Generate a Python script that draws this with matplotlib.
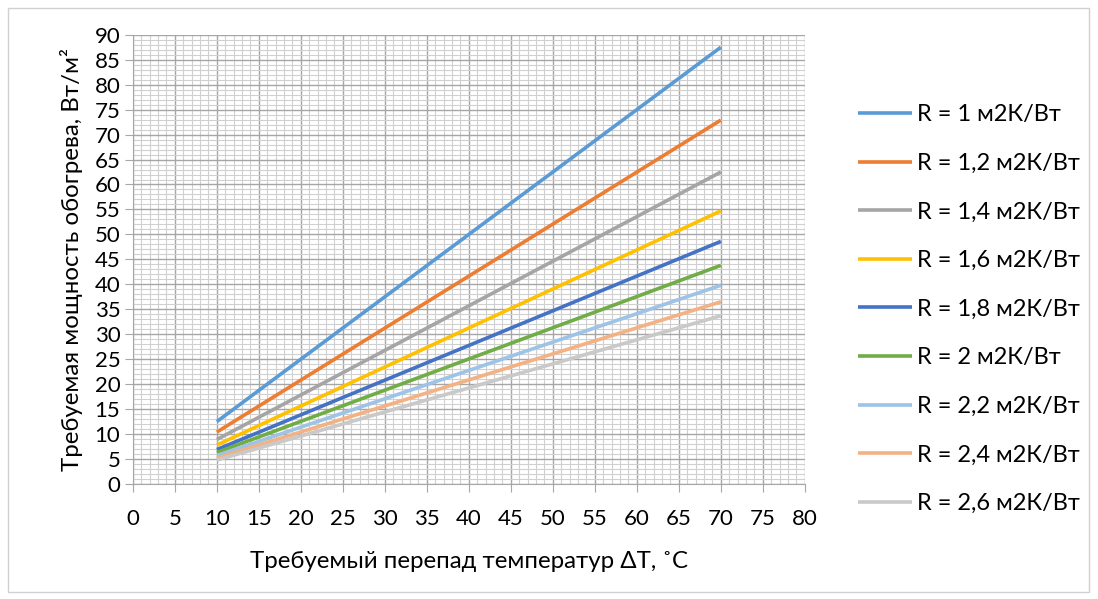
import matplotlib
matplotlib.use("Agg")
import matplotlib.pyplot as plt
from matplotlib.patches import Rectangle
from matplotlib.ticker import MultipleLocator

plt.rcParams['font.family'] = ['Lato', 'DejaVu Sans']

# thermal resistance labels and line end values
r_labels = ["1", "1,2", "1,4", "1,6", "1,8", "2", "2,2", "2,4", "2,6"]
dt_points = [10, 70]
q_start = [12.5, 10.4, 8.9, 7.8, 6.9, 6.3, 5.7, 5.2, 4.8]
q_end = [87.5, 72.9, 62.5, 54.7, 48.6, 43.8, 39.8, 36.5, 33.7]
colors = ["#5B9BD5", "#ED7D31", "#A5A5A5", "#FFC000", "#4472C4",
          "#70AD47", "#9DC3E6", "#F4B183", "#C9C9C9"]

fig = plt.figure(figsize=(10.98, 5.99), dpi=100)
ax = fig.add_axes([0.121, 0.192, 0.612, 0.750])

for lab, a, b, c in zip(r_labels, q_start, q_end, colors):
    ax.plot(dt_points, [a, b], color=c, lw=2.6, solid_capstyle='butt',
            label="R = %s м2К/Вт" % lab, zorder=3)

ax.set_xlim(0, 80)
ax.set_ylim(0, 90)
ax.xaxis.set_major_locator(MultipleLocator(5))
ax.yaxis.set_major_locator(MultipleLocator(5))
ax.xaxis.set_minor_locator(MultipleLocator(1))
ax.yaxis.set_minor_locator(MultipleLocator(1))
ax.grid(which='major', color='#A6A6A6', lw=1.0, zorder=1)
ax.grid(which='minor', color='#D0D0D0', lw=0.8, zorder=0)
ax.tick_params(which='major', direction='out', length=6, color='#A6A6A6',
               labelsize=16, pad=3)
ax.tick_params(which='minor', length=0)
for side in ['top', 'right']:
    ax.spines[side].set_visible(False)
for side in ['left', 'bottom']:
    ax.spines[side].set_color('#A6A6A6')
ax.tick_params(axis='x', pad=12)

ax.set_xlabel("Требуемый перепад температур ΔT, ˚C", fontsize=17.3, labelpad=16)
ax.set_ylabel("Требуемая мощность обогрева, Вт/м²", fontsize=17.3, labelpad=8)

ax.legend(loc='upper left', bbox_to_anchor=(0.781, 0.826),
          bbox_transform=fig.transFigure, frameon=False,
          fontsize=17, handlelength=2.3, handletextpad=0.2,
          labelspacing=1.17, borderaxespad=0, borderpad=0)

fig.patches.append(Rectangle((0.007, 0.012), 0.985, 0.975, transform=fig.transFigure,
                             fill=False, edgecolor='#D0D0D0', lw=1))

fig.savefig("out.png", dpi=100)
